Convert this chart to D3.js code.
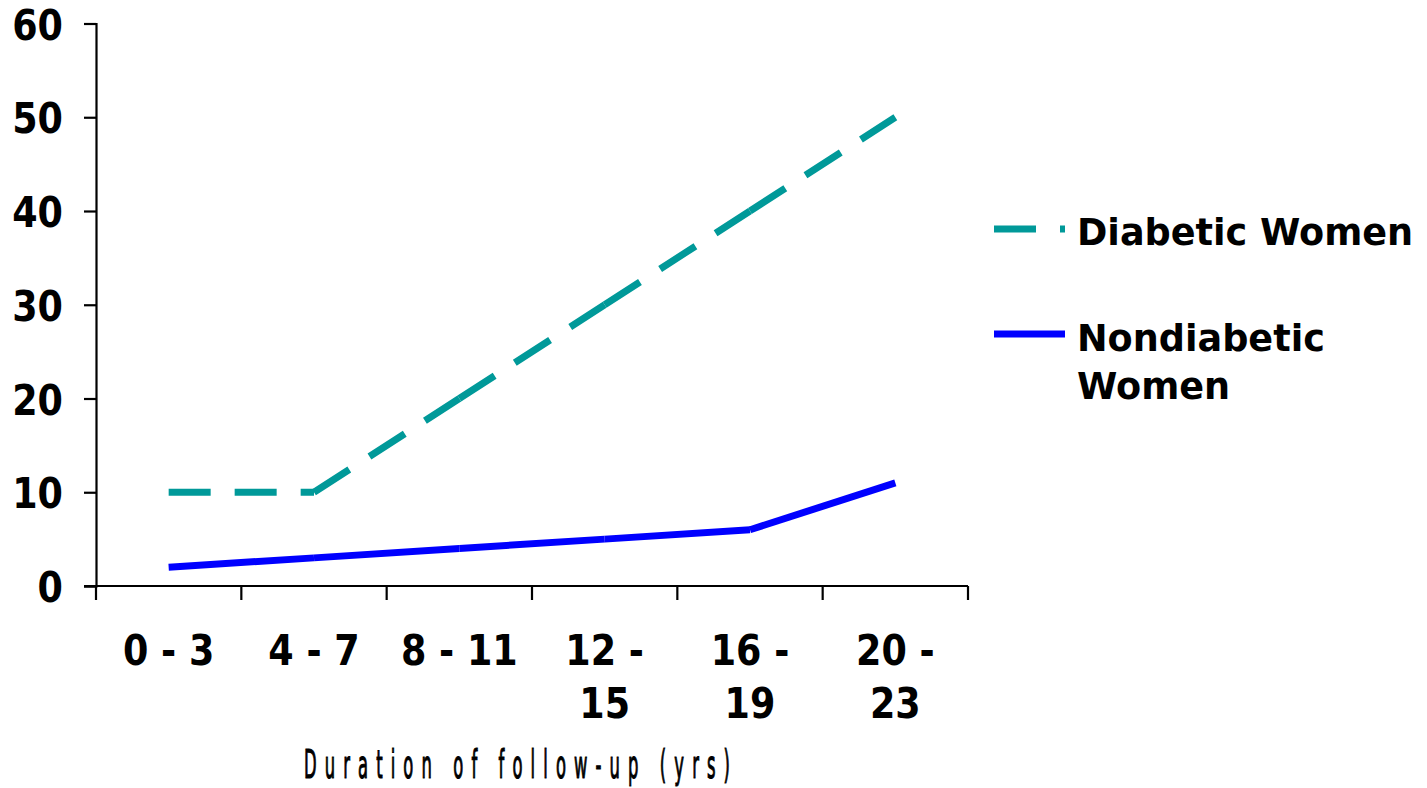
<!DOCTYPE html>
<html>
<head>
<meta charset="utf-8">
<script src="https://cdn.jsdelivr.net/npm/d3@7"></script>
<style>
  html, body { margin: 0; padding: 0; background: #fff; }
  svg { display: block; }
  text { font-family: "DejaVu Sans", Verdana, sans-serif; fill: #000; }
</style>
</head>
<body>
<svg id="chart" width="1427" height="788"></svg>
<script>
// Follow-up periods (years) and rates per group
const categories = ["0 - 3", "4 - 7", "8 - 11", "12 - 15", "16 - 19", "20 - 23"];
const categoryLines = [["0 - 3"], ["4 - 7"], ["8 - 11"], ["12 -", "15"], ["16 -", "19"], ["20 -", "23"]];
const diabeticWomen = [10, 10, 20, 30, 40, 50];
const nondiabeticWomen = [2, 3, 4, 5, 6, 11];
const yTicks = [0, 10, 20, 30, 40, 50, 60];
const seriesNames = ["Diabetic Women", "Nondiabetic Women"];
const axisTitle = "Duration of follow-up (yrs)";

const teal = "#009999";
const blue = "#0000FF";
const dash = "42 24";
const tickFont = 36.5;
const tickStretch = 1.18;

const svg = d3.select("#chart");

const x = d3.scaleBand().domain(categories).range([96, 968]).padding(0);
const y = d3.scaleLinear().domain([0, 60]).range([586, 23.5]);
const cx = c => x(c) + x.bandwidth() / 2;

// Y axis
const yAxis = svg.append("g").attr("transform", "translate(96,0)")
  .call(d3.axisLeft(y).tickValues(yTicks).tickSize(12).tickPadding(21).tickFormat(d3.format("d")));
yAxis.select(".domain").attr("stroke", "#000").attr("stroke-width", 2.2);
yAxis.selectAll(".tick line").attr("stroke", "#000").attr("stroke-width", 2.2);
yAxis.selectAll(".tick text")
  .attr("font-family", '"DejaVu Sans", sans-serif')
  .attr("font-size", tickFont).attr("font-weight", "bold").attr("fill", "#000")
  .attr("dy", "0.36em")
  .attr("transform", `scale(1,${tickStretch})`);

// X axis: ticks on category boundaries
const boundaries = categories.map(c => x(c)).concat([968]);
const xg = svg.append("g");
xg.append("line").attr("x1", 84).attr("x2", 968).attr("y1", y(0)).attr("y2", y(0))
  .attr("stroke", "#000").attr("stroke-width", 2.2);
xg.selectAll("line.tick").data(boundaries).join("line").attr("class", "tick")
  .attr("x1", d => d).attr("x2", d => d).attr("y1", y(0)).attr("y2", y(0) + 14)
  .attr("stroke", "#000").attr("stroke-width", 2.2);

const xl = xg.selectAll("text.cat").data(categories).join("text").attr("class", "cat")
  .attr("transform", d => `translate(${cx(d)},665) scale(1,${tickStretch})`)
  .attr("text-anchor", "middle").attr("font-size", tickFont).attr("font-weight", "bold");
xl.each(function(d, i) {
  const t = d3.select(this);
  categoryLines[i].forEach((ln, j) => {
    t.append("tspan").attr("x", 0).attr("dy", j === 0 ? 0 : 53 / tickStretch).text(ln);
  });
});

// Axis title (condensed)
const tg = svg.append("g").attr("transform", "translate(517,778) scale(0.42,1)");
tg.append("text").attr("x", 0).attr("y", 0).attr("text-anchor", "middle")
  .attr("font-size", 39).attr("font-weight", "normal")
  .attr("stroke", "#000").attr("stroke-width", 1.2)
  .attr("textLength", 426 / 0.42).attr("lengthAdjust", "spacing")
  .text(axisTitle);

// Lines: each segment drawn separately
const line = d3.line().x(d => cx(d.c)).y(d => y(d.v));
function segments(vals) {
  const pts = categories.map((c, i) => ({ c, v: vals[i] }));
  return d3.pairs(pts);
}

svg.append("g").selectAll("path").data(segments(nondiabeticWomen)).join("path")
  .attr("d", line).attr("fill", "none").attr("stroke", blue).attr("stroke-width", 7)
  .attr("stroke-linecap", "butt").attr("stroke-linejoin", "round");

svg.append("g").selectAll("path").data(segments(diabeticWomen)).join("path")
  .attr("d", line).attr("fill", "none").attr("stroke", teal).attr("stroke-width", 7)
  .attr("stroke-dasharray", dash).attr("stroke-linecap", "butt");

// Legend
const lg = svg.append("g");
lg.append("line").attr("x1", 994).attr("x2", 1065).attr("y1", 229).attr("y2", 229)
  .attr("stroke", teal).attr("stroke-width", 7).attr("stroke-dasharray", dash);
lg.append("text").attr("x", 1077).attr("y", 245).attr("font-size", 36.6).attr("font-weight", "bold")
  .text(seriesNames[0]);
lg.append("line").attr("x1", 994).attr("x2", 1065).attr("y1", 334).attr("y2", 334)
  .attr("stroke", blue).attr("stroke-width", 7);
const t2 = lg.append("text").attr("x", 1077).attr("y", 351).attr("font-size", 36.6).attr("font-weight", "bold");
t2.append("tspan").attr("x", 1077).attr("dy", 0).text("Nondiabetic");
t2.append("tspan").attr("x", 1077).attr("dy", 48).text("Women");
</script>
</body>
</html>
